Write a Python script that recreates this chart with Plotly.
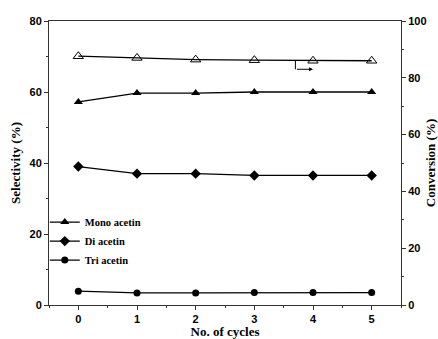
import plotly.graph_objects as go

cycles = [0, 1, 2, 3, 4, 5]
mono = [57.2, 59.7, 59.7, 60.0, 60.0, 60.0]
di = [39.0, 37.0, 37.0, 36.5, 36.5, 36.5]
tri = [3.9, 3.4, 3.4, 3.5, 3.5, 3.5]
conversion = [87.6, 87.0, 86.4, 86.2, 86.0, 86.0]

AX = "#333333"
tickfont = dict(family="Liberation Sans", size=11, color="black", weight="bold")
titlefont = dict(family="Liberation Serif", size=13, color="black", weight="bold")
line = dict(color="black", width=1.3)

fig = go.Figure()
fig.add_trace(go.Scatter(x=cycles, y=mono, name="Mono acetin", mode="lines+markers",
                         line=line, marker=dict(symbol="triangle-up", size=8, color="black")))
fig.add_trace(go.Scatter(x=cycles, y=di, name="Di acetin", mode="lines+markers",
                         line=line, marker=dict(symbol="diamond", size=8, color="black")))
fig.add_trace(go.Scatter(x=cycles, y=tri, name="Tri acetin", mode="lines+markers",
                         line=line, marker=dict(symbol="circle", size=7, color="black")))
fig.add_trace(go.Scatter(x=cycles, y=conversion, name="Conversion", mode="lines+markers",
                         yaxis="y2", showlegend=False, line=line,
                         marker=dict(symbol="triangle-up-open", size=9, color="black",
                                     line=dict(color="black", width=1))))

fig.add_shape(type="line", xref="x", yref="y", x0=3.70, y0=68.9, x1=3.70, y1=66.4,
              line=dict(color="black", width=1))
fig.add_annotation(xref="x", yref="y", axref="x", ayref="y", x=4.0, y=66.4, ax=3.70, ay=66.4,
                   text="", showarrow=True, arrowhead=2, arrowsize=0.8, arrowwidth=1, arrowcolor="black")

fig.update_layout(
    width=438, height=339,
    margin=dict(l=49, r=37, t=21, b=34),
    plot_bgcolor="white", paper_bgcolor="white",
    showlegend=True,
    legend=dict(x=-0.012, y=0.343, xanchor="left", yanchor="top",
                font=dict(family="Liberation Serif", size=10.5, color="black", weight="bold"),
                bgcolor="rgba(0,0,0,0)", tracegroupgap=0, itemwidth=30),
    xaxis=dict(range=[-0.5, 5.5], tickvals=cycles, ticks="outside", ticklen=4, tickwidth=1,
               tickcolor=AX, showline=True, linecolor=AX, linewidth=1, mirror=True,
               showgrid=False, zeroline=False, tickfont=tickfont, automargin=False,
               minor=dict(dtick=0.5, tick0=0, ticks="outside", ticklen=2, tickcolor=AX),
               title=dict(text="No. of cycles", font=titlefont, standoff=3)),
    yaxis=dict(range=[0, 80], dtick=20, ticks="outside", ticklen=4, tickwidth=1,
               tickcolor=AX, showline=True, linecolor=AX, linewidth=1,
               showgrid=False, zeroline=False, tickfont=tickfont, automargin=False,
               minor=dict(dtick=10, ticks="outside", ticklen=2, tickcolor=AX),
               title=dict(text="Selectivity (%)", font=titlefont, standoff=5)),
    yaxis2=dict(range=[0, 100], dtick=20, overlaying="y", side="right", ticks="outside",
                ticklen=4, tickwidth=1, tickcolor=AX, showline=True, linecolor=AX, linewidth=1,
                showgrid=False, zeroline=False, tickfont=tickfont, automargin=False,
                minor=dict(dtick=10, ticks="outside", ticklen=2, tickcolor=AX),
                title=dict(text="Conversion (%)", font=titlefont, standoff=1)),
)

fig.write_html("out.html")
